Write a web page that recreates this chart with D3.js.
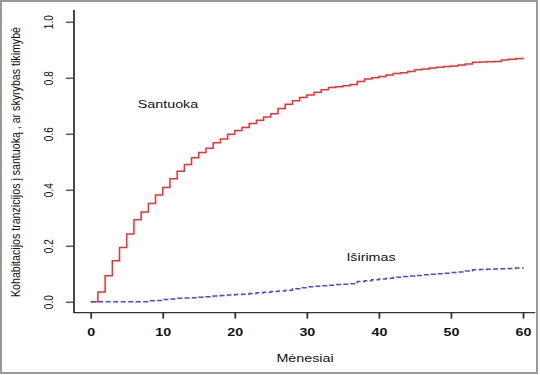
<!DOCTYPE html>
<html lang="lt">
<head>
    <meta charset="UTF-8">
    <script type="text/javascript" src="https://cdn.jsdelivr.net/npm/d3@7"></script>
    <title>Santuoka ir išsirimas</title>
    <style>
        body { margin: 0; background: #fff; }
        text { font-family: "Liberation Sans", Arial, sans-serif; fill: #111; }
    </style>
</head>
<body>
<script>
    // mėnesiai 0..60
    let months = d3.range(0, 61);
    // santuoka (raudona)
    let santuoka = [0, 0.035, 0.093, 0.146, 0.194, 0.242, 0.293, 0.320, 0.351, 0.381,
        0.408, 0.439, 0.466, 0.490, 0.514, 0.533, 0.548, 0.568, 0.581, 0.598,
        0.611, 0.622, 0.636, 0.648, 0.660, 0.671, 0.690, 0.705, 0.718, 0.729,
        0.738, 0.748, 0.757, 0.765, 0.768, 0.771, 0.776, 0.786, 0.795, 0.800,
        0.804, 0.810, 0.815, 0.818, 0.822, 0.828, 0.831, 0.835, 0.837, 0.840,
        0.842, 0.845, 0.849, 0.855, 0.856, 0.857, 0.858, 0.863, 0.866, 0.869, 0.872];
    // išsirimas (mėlyna)
    let isirimas = [0, 0, 0, 0, 0, 0, 0, 0, 0.003, 0.004,
        0.008, 0.010, 0.012, 0.013, 0.014, 0.016, 0.018, 0.020, 0.022, 0.024,
        0.026, 0.027, 0.029, 0.032, 0.034, 0.036, 0.038, 0.041, 0.046, 0.050,
        0.053, 0.055, 0.057, 0.059, 0.061, 0.062, 0.064, 0.072, 0.075, 0.078,
        0.081, 0.084, 0.087, 0.090, 0.092, 0.094, 0.096, 0.098, 0.100, 0.102,
        0.104, 0.106, 0.110, 0.114, 0.115, 0.116, 0.117, 0.118, 0.119, 0.120, 0.122];
    let xTicks = [0, 10, 20, 30, 40, 50, 60];
    let yTicks = [0, 0.2, 0.4, 0.6, 0.8, 1.0];

    let width = 540, height = 375;
    let sx = 1.3; // paveikslas ištemptas horizontaliai

    let svg = d3.select("body").append("svg")
        .attr("width", width)
        .attr("height", height);

    // rėmelis
    svg.append("rect")
        .attr("x", 1).attr("y", 1)
        .attr("width", 536).attr("height", 372)
        .attr("fill", "none")
        .attr("stroke", "#9a9a9a")
        .attr("stroke-width", 2);

    let x = d3.scaleLinear().domain([0, 60]).range([90.7, 523]);
    let y = d3.scaleLinear().domain([0, 1]).range([301.7, 21.7]);

    // ašių linijos (L formos)
    let axisColor = "#333";
    svg.append("line")
        .attr("x1", 74).attr("x2", 74)
        .attr("y1", y(1.042)).attr("y2", y(-0.039))
        .attr("stroke", axisColor).attr("stroke-width", 1.8);
    svg.append("line")
        .attr("x1", 73).attr("x2", x(61.7))
        .attr("y1", y(-0.039)).attr("y2", y(-0.039))
        .attr("stroke", axisColor).attr("stroke-width", 1.2);

    // x ašis
    let xAxis = d3.axisBottom(x).tickValues(xTicks).tickSize(6).tickFormat(d3.format("d"));
    let gx = svg.append("g")
        .attr("transform", "translate(0," + y(-0.039) + ")")
        .call(xAxis);
    gx.select(".domain").remove();
    gx.selectAll(".tick line").attr("stroke", axisColor).attr("stroke-width", 1.8);
    gx.selectAll(".tick text").remove();
    gx.selectAll(".tick").append("text")
        .attr("transform", "translate(0,23) scale(" + sx + ",1)")
        .attr("text-anchor", "middle")
        .attr("font-size", 11)
        .attr("font-weight", "bold")
        .style("fill", "#111")
        .text(d => d);

    // y ašis
    let yAxis = d3.axisLeft(y).tickValues(yTicks).tickSize(8);
    let gy = svg.append("g")
        .attr("transform", "translate(74,0)")
        .call(yAxis);
    gy.select(".domain").remove();
    gy.selectAll(".tick line").attr("stroke", axisColor).attr("stroke-width", 1.2);
    gy.selectAll(".tick text").remove();
    gy.selectAll(".tick").append("text")
        .attr("transform", "translate(-21,0) scale(" + sx + ",1) rotate(-90)")
        .attr("text-anchor", "middle")
        .attr("font-size", 10)
        .text(d => d3.format(".1f")(d));

    // kreivės
    let line = d3.line()
        .x((d, i) => x(months[i]))
        .y(d => y(d))
        .curve(d3.curveStepAfter);

    svg.append("path")
        .datum(santuoka)
        .attr("d", line)
        .attr("fill", "none")
        .attr("stroke", "#ff2a2a")
        .attr("stroke-width", 1.5);

    svg.append("path")
        .datum(isirimas)
        .attr("d", line)
        .attr("fill", "none")
        .attr("stroke", "#4545ff")
        .attr("stroke-width", 1.5)
        .attr("stroke-dasharray", "5,2.5");

    // užrašai
    function label(px, py, txt, size) {
        svg.append("text")
            .attr("transform", "translate(" + px + "," + py + ") scale(" + sx + ",1)")
            .attr("text-anchor", "middle")
            .attr("font-size", size)
            .text(txt);
    }
    label(168, 108.3, "Santuoka", 11);
    label(371, 260.7, "Iširimas", 11);
    label(305, 361.5, "Mėnesiai", 11);

    // y ašies pavadinimas
    svg.append("text")
        .attr("transform", "translate(20,162) scale(" + sx + ",1) rotate(-90)")
        .attr("text-anchor", "middle")
        .attr("font-size", 9.6)
        .attr("textLength", 270)
        .attr("lengthAdjust", "spacingAndGlyphs")
        .text("Kohabitacijos tranzicijos į santuoką , ar skyrybas tikimybė");
</script>
</body>
</html>
